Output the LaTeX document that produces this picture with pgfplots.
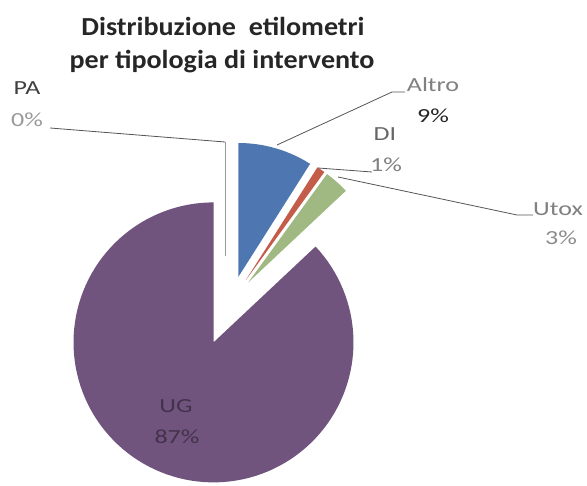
\documentclass[border=0pt]{standalone}
\usepackage{pgfplots}
\pgfplotsset{compat=1.18}
\usepackage{fontspec}
\setmainfont{Carlito}
\definecolor{cAltro}{RGB}{78,118,176}
\definecolor{cDI}{RGB}{196,92,74}
\definecolor{cUtox}{RGB}{160,184,130}
\definecolor{cUG}{RGB}{112,84,126}
\definecolor{lead}{RGB}{85,85,85}
\newcommand\wide[1]{\scalebox{1.3}[1]{#1}}
\tikzset{lbl/.style={font=\fontsize{20}{22}\selectfont, anchor=center}}
\begin{document}
\begin{tikzpicture}
\useasboundingbox (0,0) rectangle (587pt,486pt);
\begin{axis}[
  at={(0,0)}, anchor=south west,
  width=587pt, height=486pt, scale only axis,
  xmin=0, xmax=587, ymin=0, ymax=486,
  hide axis, clip=false]
% shares (%): PA 0, Altro 9, DI 1, Utox 3, UG 87 -- clockwise from 12 o'clock
% UG, exploded
\addplot[fill=cUG, draw=none, domain=-270:{90-3.6*13}, samples=120]
  ({213.5+140*cos(x)}, {143.6+140*sin(x)}) -- (213.5,143.6) -- cycle;
% Altro
\addplot[fill=cAltro, draw=none, domain={90-3.6*9}:90, samples=30]
  ({238.3+134*cos(x)}, {209+134*sin(x)}) -- (238.3,209) -- cycle;
% DI
\addplot[fill=cDI, draw=none, domain={90-3.6*10}:{90-3.6*9}, samples=10]
  ({245.6+134*cos(x)}, {205.5+134*sin(x)}) -- (245.6,205.5) -- cycle;
% Utox
\addplot[fill=cUtox, draw=none, domain={90-3.6*13}:{90-3.6*10}, samples=20]
  ({248.2+134*cos(x)}, {203.5+134*sin(x)}) -- (248.2,203.5) -- cycle;
% PA (0%)
\addplot[lead!60, line width=0.6pt] coordinates {(225,230) (225,344)};
% leader lines
\addplot[lead, line width=0.8pt] coordinates {(50,358) (225,344)};
\addplot[lead, line width=0.8pt] coordinates {(277,341) (392,394) (405,394)};
\addplot[lead, line width=0.8pt] coordinates {(318,318) (372,314)};
\addplot[lead, line width=0.8pt] coordinates {(338,309) (517,271) (533,271)};
% title
\node[font=\fontsize{26}{28}\bfseries\selectfont, text=black!85, anchor=base] at (223,450) {\scalebox{1.08}[1]{Distribuzione\ \ etilometri}};
\node[font=\fontsize{26}{28}\bfseries\selectfont, text=black!85, anchor=base] at (222,417) {\scalebox{1.08}[1]{per tipologia di intervento}};
% labels
\node[lbl, text=black!75] at (27,397.5) {\wide{PA}};
\node[lbl, text=black!40] at (27,366) {\wide{0\%}};
\node[lbl, text=black!50] at (433,401) {\wide{Altro}};
\node[lbl, text=black!85] at (433,370) {\wide{9\%}};
\node[lbl, text=black!60] at (385,352) {\wide{DI}};
\node[lbl, text=black!50] at (386,321) {\wide{1\%}};
\node[lbl, text=black!50] at (558,277) {\wide{Utox}};
\node[lbl, text=black!45] at (561,248) {\wide{3\%}};
\node[lbl, text=cUG!60!black] at (176,80) {\wide{UG}};
\node[lbl, text=cUG!60!black] at (177,49) {\wide{87\%}};
\end{axis}
\end{tikzpicture}
\end{document}
